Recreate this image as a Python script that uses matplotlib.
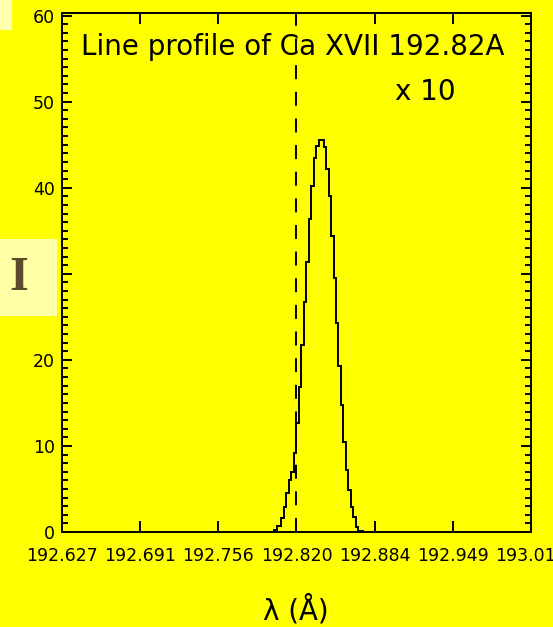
import numpy as np
import matplotlib
matplotlib.use('Agg')
import matplotlib.pyplot as plt
from matplotlib.patches import Rectangle
from matplotlib.ticker import MultipleLocator

# Ca XVII 192.82 A line profile (counts x 10)
wave_start = 192.8015
wave_step = 0.00204
profile_counts = [0.2, 0.7, 0.7, 1.6, 2.9, 4.5, 6.0, 7.0, 9.2, 12.7, 16.9, 21.7,
                  26.7, 31.4, 36.4, 40.2, 43.4, 44.9, 45.5, 45.5, 44.7, 42.2,
                  39.0, 34.4, 29.5, 24.3, 19.3, 14.8, 10.5, 7.2, 4.9, 2.9,
                  1.8, 0.6, 0.1, 0.1]
rest_wave = 192.82

x_ticks = [192.627, 192.691333, 192.755667, 192.82, 192.884333, 192.948667, 193.013]
x_tick_labels = ['192.627', '192.691', '192.756', '192.820', '192.884', '192.949', '193.013']
y_ticks = [0, 10, 20, 30, 40, 50, 60]

bg = '#ffff00'
W, H = 553, 627
lw = 1.4

fig = plt.figure(figsize=(W / 100, H / 100), dpi=100, facecolor=bg)
ax = fig.add_axes([62 / W, 1 - 532 / H, (531 - 62) / W, (532 - 13) / H])
ax.set_facecolor(bg)

edges = wave_start + wave_step * np.arange(len(profile_counts) + 1)
ax.stairs(profile_counts, edges, baseline=0, color='black', lw=lw)
ax.axvline(rest_wave, color='black', lw=lw, dashes=(7.2, 6.5))

ax.set_xlim(x_ticks[0], x_ticks[-1])
ax.set_ylim(0, 60.3)
ax.set_xticks(x_ticks)
ax.set_xticklabels(x_tick_labels)
ax.set_yticks(y_ticks)
ax.yaxis.set_minor_locator(MultipleLocator(1))

for s in ax.spines.values():
    s.set_linewidth(lw)
ax.tick_params(axis='both', which='both', direction='in', top=True, right=True,
               color='black', width=lw, labelsize=12.5)
ax.tick_params(axis='x', which='major', length=8, pad=11)
ax.tick_params(axis='y', which='major', length=7.5, pad=5)
ax.tick_params(axis='y', which='minor', length=4.5)

ax.text(0.040, 0.935, 'Line profile of Ca XVII 192.82A', transform=ax.transAxes,
        ha='left', va='center', fontsize=20)
ax.text(0.710, 0.848, 'x 10', transform=ax.transAxes,
        ha='left', va='center', fontsize=20)

fig.text(296 / W, 1 - 610 / H, 'λ (Å)', ha='center', va='center', fontsize=20)

# light boxes on the slide background
fig.patches.append(Rectangle((0, 1 - 316 / H), 57 / W, 77 / H, transform=fig.transFigure,
                             facecolor='#ffffa8', edgecolor='none', zorder=0))
fig.patches.append(Rectangle((0, 1 - 30 / H), 12 / W, 30 / H, transform=fig.transFigure,
                             facecolor='#ffffb0', edgecolor='none', zorder=0))
fig.text(19 / W, 1 - 278 / H, 'I', ha='center', va='center', fontsize=35,
         family='Liberation Serif', fontweight='bold', color='#5c4a2c')

fig.savefig('out.png', dpi=100, facecolor=bg)
